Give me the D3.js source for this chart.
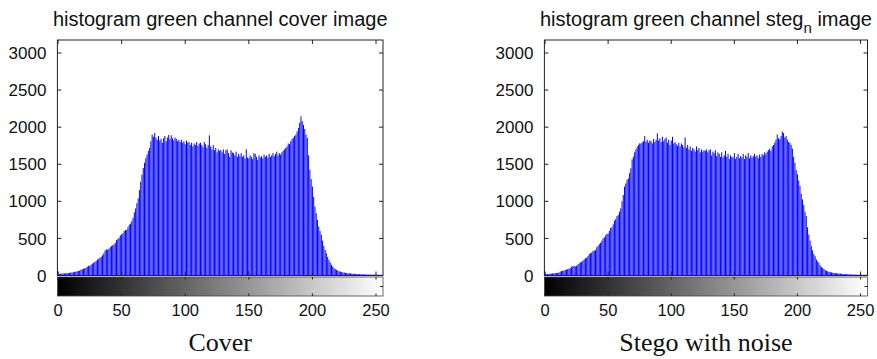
<!DOCTYPE html>
<html>
<head>
<meta charset="utf-8">
<script src="https://cdn.jsdelivr.net/npm/d3@7"></script>
<style>
  body { margin: 0; background: #fff; }
  svg { display: block; }
  .tick-label { font-family: 'Liberation Sans', Arial, sans-serif; fill: #111; }
  .title { font-family: 'Liberation Sans', Arial, sans-serif; font-size: 20px; fill: #111; }
  .caption { font-family: 'Liberation Serif', 'Times New Roman', serif; font-size: 26px; fill: #111; }
</style>
</head>
<body>
<div id="chart"></div>
<script>
// histogram counts, one value per grey level 0..255
const coverCounts = [
  55, 22, 24, 26, 28, 27, 31, 33, 35, 34, 40, 41, 44, 50, 52, 55,
  62, 66, 78, 84, 90, 98, 104, 118, 128, 134, 145, 160, 172, 185, 196, 215,
  228, 240, 252, 272, 300, 338, 352, 348, 362, 380, 398, 408, 418, 440, 478, 492,
  510, 540, 556, 570, 598, 612, 616, 650, 685, 700, 735, 780, 850, 905, 975, 1040,
  1150, 1265, 1360, 1450, 1520, 1580, 1630, 1680, 1720, 1810, 1900, 1870, 1920, 1860, 1830, 1880,
  1820, 1840, 1790, 1850, 1880, 1810, 1860, 1895, 1840, 1890, 1850, 1820, 1860, 1840, 1810, 1830,
  1800, 1830, 1790, 1810, 1770, 1820, 1790, 1800, 1760, 1790, 1740, 1780, 1760, 1800, 1750, 1780,
  1790, 1760, 1730, 1800, 1770, 1720, 1760, 1890, 1740, 1700, 1760, 1690, 1720, 1660, 1700, 1680,
  1690, 1660, 1700, 1640, 1690, 1700, 1650, 1600, 1690, 1660, 1650, 1620, 1670, 1600, 1640, 1610,
  1650, 1600, 1620, 1580, 1700, 1590, 1580, 1620, 1600, 1570, 1650, 1640, 1600, 1560, 1620, 1590,
  1610, 1580, 1630, 1600, 1620, 1590, 1640, 1600, 1620, 1650, 1610, 1640, 1670, 1620, 1650, 1630,
  1660, 1680, 1700, 1720, 1740, 1780, 1770, 1810, 1840, 1860, 1880, 1900, 1944, 1990, 2060, 2146,
  2080, 2030, 1975, 1900, 1854, 1620, 1426, 1300, 1200, 1060, 930, 840, 750, 660, 600, 550,
  470, 400, 346, 300, 250, 210, 175, 144, 120, 99, 85, 75, 67, 58, 52, 46,
  42, 40, 36, 33, 31, 29, 27, 25, 24, 22, 21, 20, 19, 18, 17, 16,
  16, 15, 14, 14, 13, 13, 12, 12, 12, 11, 11, 11, 10, 10, 10, 10
];

const stegoCounts = [
  40, 18, 20, 22, 25, 24, 28, 30, 32, 33, 36, 40, 52, 60, 63, 66,
  74, 80, 86, 92, 100, 118, 126, 128, 124, 130, 150, 162, 178, 185, 200, 218,
  232, 240, 262, 290, 300, 310, 330, 335, 342, 380, 400, 423, 440, 470, 500, 513,
  540, 560, 567, 600, 640, 648, 690, 740, 760, 800, 815, 860, 905, 1000, 1085, 1200,
  1240, 1290, 1310, 1380, 1445, 1566, 1600, 1660, 1700, 1737, 1760, 1782, 1780, 1795, 1810, 1880,
  1800, 1830, 1790, 1820, 1810, 1780, 1840, 1800, 1830, 1917, 1820, 1850, 1800, 1870, 1810, 1840,
  1860, 1790, 1830, 1760, 1820, 1870, 1780, 1800, 1770, 1750, 1790, 1740, 1780, 1760, 1730, 1860,
  1720, 1760, 1700, 1740, 1680, 1720, 1700, 1670, 1740, 1690, 1720, 1660, 1700, 1670, 1690, 1680,
  1700, 1660, 1690, 1700, 1620, 1670, 1650, 1690, 1610, 1660, 1640, 1600, 1660, 1590, 1620, 1680,
  1600, 1640, 1570, 1620, 1600, 1590, 1650, 1570, 1600, 1640, 1580, 1610, 1590, 1640, 1570, 1620,
  1600, 1650, 1580, 1620, 1590, 1610, 1640, 1600, 1620, 1580, 1630, 1600, 1640, 1620, 1660, 1640,
  1670, 1690, 1710, 1680, 1740, 1760, 1790, 1830, 1900, 1850, 1836, 1880, 1940, 1920, 1860, 1880,
  1830, 1800, 1790, 1760, 1710, 1600, 1520, 1420, 1364, 1280, 1206, 1100, 1026, 950, 860, 800,
  650, 553, 470, 396, 340, 290, 260, 215, 190, 171, 140, 115, 103, 88, 72, 64,
  56, 50, 45, 41, 38, 35, 33, 31, 29, 27, 25, 23, 21, 20, 18, 17,
  16, 15, 15, 14, 13, 13, 12, 12, 11, 11, 11, 10, 10, 10, 10, 9
];

const yTicks = [0, 500, 1000, 1500, 2000, 2500, 3000];
const xTicks = [0, 50, 100, 150, 200, 250];
// title pieces: [main, subscript, rest]
const titleParts = [
  ['histogram green channel cover image', '', ''],
  ['histogram green channel steg', 'n', ' image']
];
const captions = ['Cover', 'Stego with noise'];

const W = 877, H = 359;

const svg = d3.select('#chart').append('svg')
  .attr('width', W)
  .attr('height', H);

// grey colormap for the colour bar
const defs = svg.append('defs');
const grad = defs.append('linearGradient').attr('id', 'greyramp')
  .attr('x1', '0%').attr('x2', '100%').attr('y1', '0%').attr('y2', '0%');
grad.append('stop').attr('offset', '0%').attr('stop-color', '#000');
grad.append('stop').attr('offset', '100%').attr('stop-color', '#fff');

const panels = [
  { counts: coverCounts, title: titleParts[0], caption: captions[0], left: 57.4, right: 383 },
  { counts: stegoCounts, title: titleParts[1], caption: captions[1], left: 544.4, right: 867.5 }
];

const plotTop = 40, plotBase = 275.5, cbTop = 277, cbBottom = 296;
const tickLen = 4;

panels.forEach((p) => {
  const g = svg.append('g');

  const x = d3.scaleLinear().domain([-0.5, 255.5]).range([p.left, p.right]);
  const y = d3.scaleLinear().domain([0, 3175]).range([plotBase, plotTop]);

  //
  // stems
  //
  g.selectAll('line.bar')
    .data(p.counts)
    .enter()
    .append('line')
    .attr('class', 'bar')
    .attr('x1', (d, i) => x(i))
    .attr('x2', (d, i) => x(i))
    .attr('y1', y(0))
    .attr('y2', (d) => y(d))
    .attr('stroke', '#0000ff')
    .attr('stroke-width', 1);

  // stem baseline
  g.append('line')
    .attr('x1', p.left).attr('x2', p.right)
    .attr('y1', y(0)).attr('y2', y(0))
    .attr('stroke', '#000060').attr('stroke-width', 1.2);

  //
  // axes box and inward ticks
  //
  g.append('rect')
    .attr('x', p.left).attr('y', plotTop)
    .attr('width', p.right - p.left).attr('height', plotBase - plotTop)
    .attr('fill', 'none').attr('stroke', '#222').attr('stroke-width', 1);

  xTicks.forEach((t) => {
    g.append('line')
      .attr('x1', x(t)).attr('x2', x(t))
      .attr('y1', plotTop).attr('y2', plotTop + tickLen)
      .attr('stroke', '#222');
    g.append('line')
      .attr('x1', x(t)).attr('x2', x(t))
      .attr('y1', plotBase).attr('y2', plotBase - tickLen)
      .attr('stroke', '#222');
  });

  yTicks.forEach((t) => {
    g.append('line')
      .attr('x1', p.left).attr('x2', p.left + tickLen)
      .attr('y1', y(t)).attr('y2', y(t))
      .attr('stroke', '#222');
    g.append('line')
      .attr('x1', p.right).attr('x2', p.right - tickLen)
      .attr('y1', y(t)).attr('y2', y(t))
      .attr('stroke', '#222');
  });

  g.selectAll('text.ylab')
    .data(yTicks)
    .enter()
    .append('text')
    .attr('class', 'tick-label ylab')
    .attr('x', p.left - 11)
    .attr('y', (d) => y(d))
    .attr('dy', '0.36em')
    .attr('text-anchor', 'end')
    .style('font-size', '17px')
    .text((d) => d);

  //
  // colour bar
  //
  g.append('rect')
    .attr('x', p.left).attr('y', cbTop)
    .attr('width', p.right - p.left).attr('height', cbBottom - cbTop)
    .attr('fill', 'url(#greyramp)')
    .attr('stroke', '#444').attr('stroke-width', 0.8);

  xTicks.forEach((t) => {
    g.append('line')
      .attr('x1', x(t)).attr('x2', x(t))
      .attr('y1', cbTop).attr('y2', cbTop + 2.5)
      .attr('stroke', '#222');
    g.append('line')
      .attr('x1', x(t)).attr('x2', x(t))
      .attr('y1', cbBottom).attr('y2', cbBottom - 2.5)
      .attr('stroke', '#222');
  });
  g.append('line')
    .attr('x1', p.right).attr('x2', p.right - 3)
    .attr('y1', (cbTop + cbBottom) / 2).attr('y2', (cbTop + cbBottom) / 2)
    .attr('stroke', '#222');

  g.selectAll('text.xlab')
    .data(xTicks)
    .enter()
    .append('text')
    .attr('class', 'tick-label xlab')
    .attr('x', (d) => x(d))
    .attr('y', 316)
    .attr('text-anchor', 'middle')
    .style('font-size', '16.5px')
    .text((d) => d);

  //
  // title and caption
  //
  const title = g.append('text')
    .attr('class', 'title')
    .attr('x', (p.left + p.right) / 2)
    .attr('y', 26)
    .attr('text-anchor', 'middle');
  title.append('tspan').text(p.title[0]);
  if (p.title[1]) {
    title.append('tspan').attr('dy', 7).style('font-size', '15px').text(p.title[1]);
    title.append('tspan').attr('dy', -7).text(p.title[2]);
  }

  g.append('text')
    .attr('class', 'caption')
    .attr('x', (p.left + p.right) / 2)
    .attr('y', 351)
    .attr('text-anchor', 'middle')
    .text(p.caption);
});
</script>
</body>
</html>
